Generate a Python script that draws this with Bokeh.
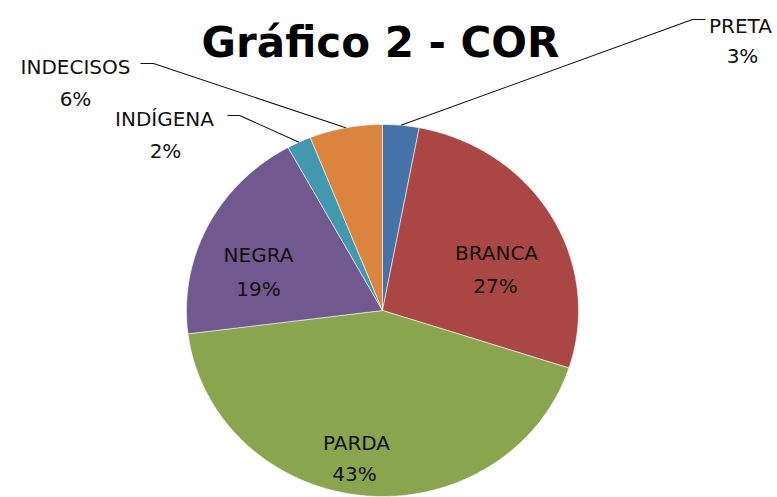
import numpy as np
from bokeh.plotting import figure
from bokeh.models import Range1d, ColumnDataSource
from bokeh.core.properties import value
from bokeh.embed import file_html
from bokeh.resources import INLINE

# ---- data ----
categories = ["PRETA", "BRANCA", "PARDA", "NEGRA", "INDÍGENA", "INDECISOS"]
percentages = [3, 27, 43, 19, 2, 6]
colors = ["#4572A7", "#AA4643", "#89A54E", "#71588F", "#4198AF", "#DB843D"]
title_text = "Gráfico 2 - COR"

# ---- layout (image pixel coordinates, y downwards) ----
CX, CY, RX, RY = 382, 310, 196, 186
# label anchors: (name x, name baseline, pct x, pct baseline)
label_layout = {
    "PRETA": (740, 25, 742, 55),
    "BRANCA": (496, 252, 495, 285),
    "PARDA": (356, 442, 354, 473),
    "NEGRA": (258, 254, 258, 288),
    "INDÍGENA": (164, 118, 165, 150),
    "INDECISOS": (75, 66, 75, 98),
}
# leader line label-side points for outside labels
leader_layout = {
    "PRETA": [(705, 19), (692, 19)],
    "INDÍGENA": [(227, 115), (239, 115)],
    "INDECISOS": [(140, 63), (153, 63)],
}

W, H = 777, 497
p = figure(width=W, height=H, output_backend="svg", toolbar_location=None,
           x_range=Range1d(0, W), y_range=Range1d(H, 0),
           min_border=0, background_fill_color="white", border_fill_color="white")
p.axis.visible = False
p.grid.visible = False
p.outline_line_color = None

vals = np.array(percentages, dtype=float)
fr = vals / vals.sum()
ends = np.cumsum(fr) * 2 * np.pi
starts = ends - fr * 2 * np.pi
mids = (starts + ends) / 2

xs, ys = [], []
for a0, a1 in zip(starts, ends):
    t = np.linspace(a0, a1, max(8, int((a1 - a0) * 120)))
    xs.append([CX] + list(CX + RX * np.sin(t)) + [CX])
    ys.append([CY] + list(CY - RY * np.cos(t)) + [CY])

src = ColumnDataSource(dict(xs=xs, ys=ys, color=colors, cat=categories))
p.patches("xs", "ys", source=src, fill_color="color", line_color="white",
          line_width=0.8, line_alpha=0.7)

# leader lines
for cat, pts in leader_layout.items():
    i = categories.index(cat)
    ex = CX + RX * np.sin(mids[i])
    ey = CY - RY * np.cos(mids[i])
    lx = [pt[0] for pt in pts] + [ex]
    ly = [pt[1] for pt in pts] + [ey]
    p.line(lx, ly, line_color="#111111", line_width=1.1)

# labels
nx, ny, px, py, names, pcts = [], [], [], [], [], []
for cat, v in zip(categories, percentages):
    a, b, c, d = label_layout[cat]
    nx.append(a); ny.append(b); px.append(c); py.append(d)
    names.append(cat); pcts.append(f"{v}%")

p.text(nx, ny, text=names, text_font=value("DejaVu Sans"), text_font_size="20px",
       text_align="center", text_baseline="alphabetic", text_color="#111111")
p.text(px, py, text=pcts, text_font=value("DejaVu Sans"), text_font_size="20px",
       text_align="center", text_baseline="alphabetic", text_color="#111111")

# title
p.text([380], [42], text=[title_text], text_font=value("DejaVu Sans"),
       text_font_size="42px", text_font_style="bold", text_align="center",
       text_baseline="alphabetic", text_color="black")

open("out.html", "w").write(file_html(p, INLINE))
